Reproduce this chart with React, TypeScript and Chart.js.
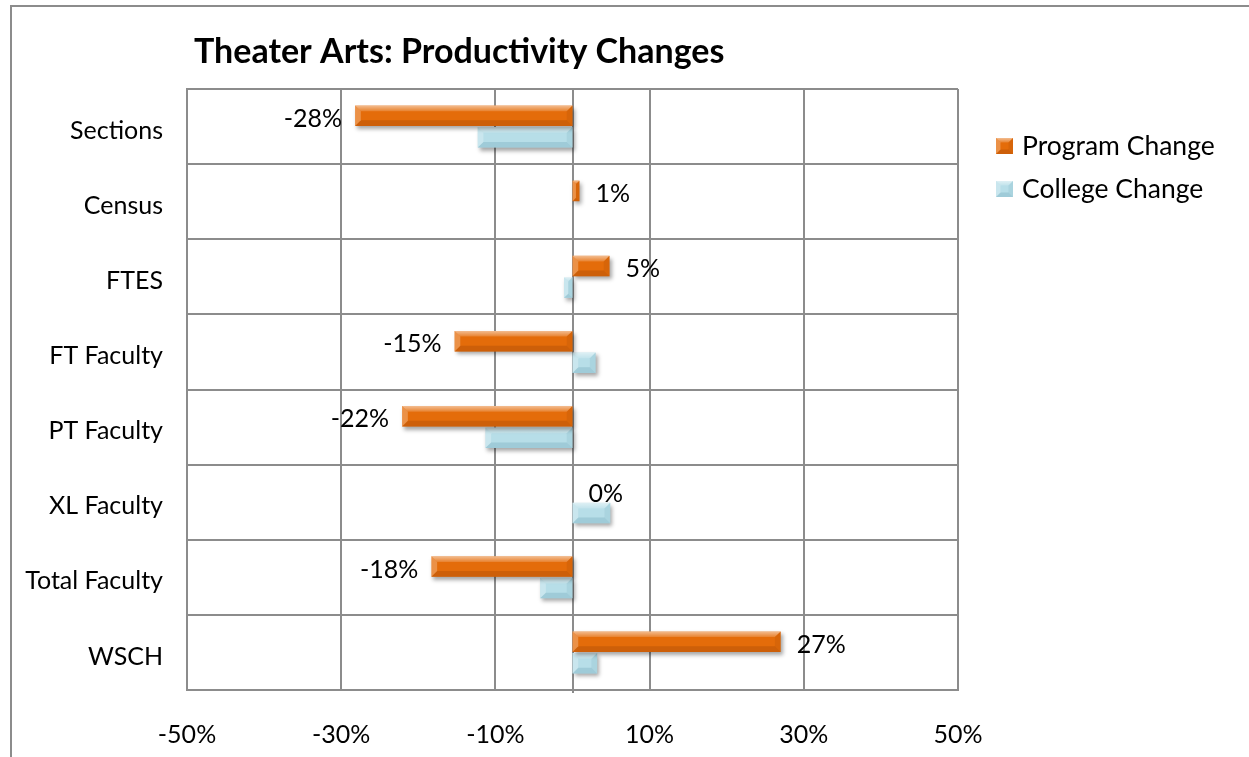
import React, { useEffect, useRef } from "react";
import { Chart, registerables } from "chart.js";

Chart.register(...registerables);

// ---- data ----
const categories = ["Sections", "Census", "FTES", "FT Faculty", "PT Faculty", "XL Faculty", "Total Faculty", "WSCH"];
const programChange = [-28.2, 0.9, 4.8, -15.3, -22.1, 0, -18.3, 27.0];
const collegeChange = [-12.3, 0, -1.1, 3.0, -11.3, 4.9, -4.2, 3.2];
const seriesNames = ["Program Change", "College Change"];
const xTickValues = [-50, -30, -10, 10, 30, 50];
const titleText = "Theater Arts: Productivity Changes";

const FONT = "Lato";
const GRID = "#8c8c8c";
const ORANGE = "#e46c0a";
const ORANGE_DARK = "#b9560a";
const BLUE = "#b7dee8";
const BLUE_DARK = "#8dbccb";

function bevel(ctx: CanvasRenderingContext2D, L: number, R: number, T: number, B: number, dark: string) {
  const w = R - L;
  const h = B - T;
  if (w < 0.5 || h < 0.5) return;
  const e = Math.min(h * 0.28, w / 2);
  ctx.save();
  let g = ctx.createLinearGradient(0, T, 0, T + e);
  g.addColorStop(0, "rgba(255,255,255,0.55)");
  g.addColorStop(1, "rgba(255,255,255,0.15)");
  ctx.fillStyle = g;
  ctx.beginPath();
  ctx.moveTo(L, T);
  ctx.lineTo(R, T);
  ctx.lineTo(R - e, T + e);
  ctx.lineTo(L + e, T + e);
  ctx.closePath();
  ctx.fill();
  ctx.globalAlpha = 0.55;
  ctx.fillStyle = dark;
  ctx.beginPath();
  ctx.moveTo(L, B);
  ctx.lineTo(R, B);
  ctx.lineTo(R - e, B - e);
  ctx.lineTo(L + e, B - e);
  ctx.closePath();
  ctx.fill();
  ctx.globalAlpha = 0.3;
  ctx.beginPath();
  ctx.moveTo(R, T);
  ctx.lineTo(R, B);
  ctx.lineTo(R - e, B - e);
  ctx.lineTo(R - e, T + e);
  ctx.closePath();
  ctx.fill();
  ctx.fillStyle = "#ffffff";
  ctx.globalAlpha = 0.25;
  ctx.beginPath();
  ctx.moveTo(L, T);
  ctx.lineTo(L, B);
  ctx.lineTo(L + e, B - e);
  ctx.lineTo(L + e, T + e);
  ctx.closePath();
  ctx.fill();
  ctx.restore();
}

const decorPlugin = {
  id: "decor",
  beforeDatasetsDraw(chart: any) {
    const { ctx, chartArea, scales } = chart;
    const x0 = Math.round(scales.x.getPixelForValue(0));
    ctx.save();
    ctx.strokeStyle = GRID;
    ctx.lineWidth = 2;
    ctx.beginPath();
    ctx.moveTo(x0, chartArea.top);
    ctx.lineTo(x0, chartArea.bottom + 3);
    ctx.stroke();
    ctx.restore();
  },
  beforeDatasetDraw(chart: any) {
    const ctx = chart.ctx;
    ctx.save();
    ctx.shadowColor = "rgba(0,0,0,0.35)";
    ctx.shadowBlur = 4;
    ctx.shadowOffsetX = 2;
    ctx.shadowOffsetY = 3;
  },
  afterDatasetDraw(chart: any, args: any) {
    const ctx = chart.ctx;
    ctx.restore();
    const meta = args.meta;
    const dark = args.index === 0 ? ORANGE_DARK : BLUE_DARK;
    meta.data.forEach((el: any) => {
      const p = el.getProps(["x", "y", "base", "height"], true);
      const L = Math.min(p.x, p.base);
      const R = Math.max(p.x, p.base);
      bevel(ctx, L, R, p.y - p.height / 2, p.y + p.height / 2, dark);
    });
  },
  afterDatasetsDraw(chart: any) {
    const { ctx } = chart;
    const meta = chart.getDatasetMeta(0);
    const vals = chart.data.datasets[0].data as number[];
    ctx.save();
    ctx.font = `25px ${FONT}`;
    ctx.fillStyle = "#000";
    ctx.textBaseline = "middle";
    meta.data.forEach((el: any, i: number) => {
      const v = vals[i];
      const p = el.getProps(["x", "y"], true);
      const txt = `${Math.round(v)}%`;
      if (v >= 0) {
        ctx.textAlign = "left";
        ctx.fillText(txt, p.x + 16, p.y + 3);
      } else {
        ctx.textAlign = "right";
        ctx.fillText(txt, p.x - 13, p.y + 3);
      }
    });
    ctx.restore();
  },
  afterDraw(chart: any) {
    const { ctx } = chart;
    ctx.save();
    ctx.font = `bold 34px ${FONT}`;
    ctx.fillStyle = "#000";
    ctx.textAlign = "left";
    ctx.textBaseline = "middle";
    ctx.fillText(titleText, 194, 52);
    const cols = [
      [ORANGE, ORANGE_DARK],
      [BLUE, BLUE_DARK],
    ];
    chart.data.datasets.forEach((ds: any, i: number) => {
      const y = 146 + i * 43;
      const bx = 996;
      const s = 17;
      ctx.fillStyle = cols[i][0];
      ctx.fillRect(bx, y - 8, s, s - 1);
      bevel(ctx, bx, bx + s, y - 8, y + 8, cols[i][1]);
      ctx.font = `26.5px ${FONT}`;
      ctx.fillStyle = "#000";
      ctx.textAlign = "left";
      ctx.textBaseline = "middle";
      ctx.fillText(ds.label, 1022, y);
    });
    ctx.restore();
  },
};

export default function App() {
  const ref = useRef<HTMLCanvasElement | null>(null);

  useEffect(() => {
    if (!ref.current) return;
    const chart = new Chart(ref.current, {
      type: "bar",
      data: {
        labels: categories,
        datasets: [
          {
            label: seriesNames[0],
            data: programChange,
            backgroundColor: ORANGE,
            borderWidth: 0,
            categoryPercentage: 0.575,
            barPercentage: 0.95,
          },
          {
            label: seriesNames[1],
            data: collegeChange,
            backgroundColor: BLUE,
            borderWidth: 0,
            categoryPercentage: 0.575,
            barPercentage: 0.95,
          },
        ],
      },
      options: {
        indexAxis: "y",
        responsive: false,
        animation: false,
        devicePixelRatio: 1,
        layout: { padding: { left: 0, top: 89, right: 291, bottom: 0 } },
        plugins: {
          legend: { display: false },
          title: { display: false },
          tooltip: { enabled: false },
        },
        scales: {
          x: {
            type: "linear",
            min: -50,
            max: 50,
            afterBuildTicks: (scale: any) => {
              scale.ticks = xTickValues.map((v) => ({ value: v }));
            },
            afterFit: (scale: any) => {
              scale.height = 67;
            },
            grid: { color: GRID, lineWidth: 2, drawTicks: false },
            border: { display: true, color: GRID, width: 2 },
            ticks: {
              padding: 30,
              color: "#000",
              font: { family: FONT, size: 25 },
              callback: (v: any) => `${v}%`,
              maxRotation: 0,
              autoSkip: false,
            },
          },
          y: {
            type: "category",
            afterFit: (scale: any) => {
              scale.width = 187;
            },
            grid: { color: GRID, lineWidth: 2, drawTicks: false },
            border: { display: true, color: GRID, width: 2 },
            ticks: {
              padding: 24,
              labelOffset: 4,
              color: "#000",
              font: { family: FONT, size: 25 },
              autoSkip: false,
            },
          },
        },
      },
      plugins: [decorPlugin],
    });
    return () => chart.destroy();
  }, []);

  return (
    <div style={{ position: "fixed", left: 0, top: 0, width: 1249, height: 757, background: "#fff", overflow: "hidden" }}>
      <canvas ref={ref} width={1249} height={757} style={{ position: "absolute", left: 0, top: 0, width: 1249, height: 757 }} />
      <div
        style={{
          position: "absolute",
          left: 10,
          top: 5,
          width: 1300,
          height: 900,
          border: "2px solid #8c8c8c",
          pointerEvents: "none",
        }}
      />
    </div>
  );
}
